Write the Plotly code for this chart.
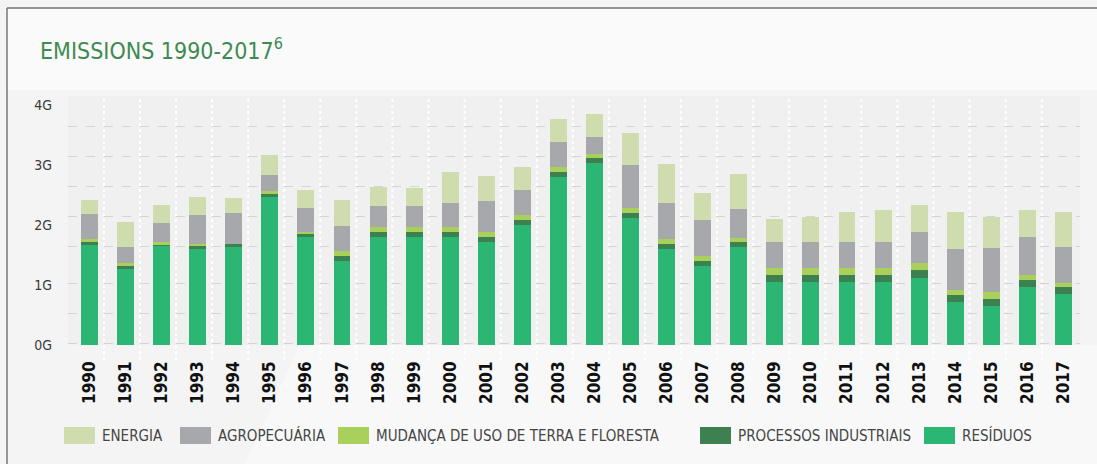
import plotly.graph_objects as go

years = [str(y) for y in range(1990, 2018)]
residuos = [1.68, 1.28, 1.65, 1.60, 1.63, 2.48, 1.80, 1.40, 1.80, 1.80, 1.80, 1.72, 2.00, 2.80,
            3.03, 2.12, 1.60, 1.32, 1.63, 1.05, 1.05, 1.05, 1.05, 1.12, 0.72, 0.65, 0.97, 0.85]
processos = [0.03, 0.03, 0.03, 0.05, 0.05, 0.03, 0.05, 0.08, 0.08, 0.08, 0.08, 0.08, 0.08, 0.08,
             0.08, 0.08, 0.08, 0.08, 0.08, 0.12, 0.12, 0.12, 0.12, 0.13, 0.12, 0.12, 0.12, 0.12]
mudanca = [0.05, 0.05, 0.03, 0.03, 0.00, 0.05, 0.03, 0.08, 0.08, 0.08, 0.08, 0.08, 0.08, 0.08,
           0.08, 0.08, 0.08, 0.08, 0.08, 0.12, 0.12, 0.12, 0.12, 0.12, 0.08, 0.12, 0.08, 0.07]
agro = [0.43, 0.27, 0.32, 0.48, 0.52, 0.28, 0.40, 0.43, 0.35, 0.35, 0.40, 0.52, 0.43, 0.43,
        0.28, 0.72, 0.60, 0.60, 0.48, 0.43, 0.43, 0.43, 0.43, 0.52, 0.68, 0.72, 0.63, 0.60]
energia = [0.22, 0.42, 0.30, 0.30, 0.25, 0.33, 0.30, 0.42, 0.33, 0.30, 0.53, 0.42, 0.38, 0.38,
           0.38, 0.53, 0.65, 0.45, 0.58, 0.38, 0.42, 0.50, 0.53, 0.45, 0.62, 0.53, 0.45, 0.58]

y_tick_vals = [0, 1, 2, 3, 4]
y_tick_text = ["0G", "1G", "2G", "3G", "4G"]
grid_vals = [0.02, 0.53, 1.03, 1.64, 2.14, 2.64, 3.14, 3.64, 4.14]

series = [
    ("RESÍDUOS", residuos, "#2bb673"),
    ("PROCESSOS INDUSTRIAIS", processos, "#3d8150"),
    ("MUDANÇA DE USO DE TERRA E FLORESTA", mudanca, "#a8d05a"),
    ("AGROPECUÁRIA", agro, "#a7a8ab"),
    ("ENERGIA", energia, "#cfdcae"),
]

FONT = "DejaVu Sans Condensed, Liberation Sans Narrow, Roboto, sans-serif"
W, H = 1097, 464
ML, MR, MT, MB = 68, 17, 96, 119
PW, PH = W - ML - MR, H - MT - MB


def px(x):
    return (x - ML) / PW


def py(y):
    return (H - MB - y) / PH


fig = go.Figure()
for name, vals, color in series:
    fig.add_trace(go.Bar(x=years, y=vals, name=name, marker=dict(color=color, line=dict(width=0)),
                         width=0.47, showlegend=False))

shapes = []
# top white area
shapes.append(dict(type="rect", xref="paper", yref="paper", x0=px(7), x1=px(W), y0=py(90), y1=py(8),
                   fillcolor="#fafafa", line=dict(width=0), layer="below"))
# subtle diagonal light band
shapes.append(dict(type="path", xref="paper", yref="paper",
                   path=f"M {px(245)} {py(464)} L {px(300)} {py(345)} L {px(W)} {py(345)} L {px(W)} {py(464)} Z",
                   fillcolor="#f8f8f8", line=dict(width=0), layer="below"))
# card border
shapes.append(dict(type="line", xref="paper", yref="paper", x0=px(7), x1=px(W), y0=py(8), y1=py(8),
                   line=dict(color="#707070", width=1.5), layer="above"))
shapes.append(dict(type="line", xref="paper", yref="paper", x0=px(7), x1=px(7), y0=py(8), y1=py(H),
                   line=dict(color="#777777", width=1.5), layer="above"))
# white dotted separators
for i in range(len(years) - 1):
    shapes.append(dict(type="line", xref="x", yref="paper", x0=i + 0.4, x1=i + 0.4, y0=py(360), y1=1,
                       line=dict(color="#ffffff", width=2, dash="dot"), layer="below"))

annotations = [dict(text="EMISSIONS 1990-2017<sup>6</sup>", xref="paper", yref="paper", x=px(38), y=py(49),
                    xanchor="left", yanchor="middle", showarrow=False,
                    font=dict(family=FONT, size=23, color="#3f8a50"))]

legend_items = [
    ("ENERGIA", "#cfdcae", 64),
    ("AGROPECUÁRIA", "#a7a8ab", 180),
    ("MUDANÇA DE USO DE TERRA E FLORESTA", "#a8d05a", 338),
    ("PROCESSOS INDUSTRIAIS", "#3d8150", 700),
    ("RESÍDUOS", "#2bb673", 924),
]
for label, color, x0 in legend_items:
    shapes.append(dict(type="rect", xref="paper", yref="paper", x0=px(x0), x1=px(x0 + 31),
                       y0=py(444), y1=py(427), fillcolor=color, line=dict(width=0), layer="above"))
    annotations.append(dict(text=label, xref="paper", yref="paper", x=px(x0 + 36), y=py(435.5),
                            xanchor="left", yanchor="middle", showarrow=False,
                            font=dict(family=FONT, size=15, color="#454545")))

fig.update_layout(
    width=W, height=H,
    margin=dict(l=ML, r=MR, t=MT, b=MB, pad=0),
    barmode="stack",
    paper_bgcolor="#f4f4f4",
    plot_bgcolor="#f0f0f0",
    shapes=shapes,
    annotations=annotations,
    showlegend=False,
    xaxis=dict(type="category", range=[-0.596, 27.46], tickangle=-90, showgrid=False, zeroline=False,
               ticks="", ticklabelstandoff=12,
               tickfont=dict(family=FONT, size=17, color="#111111", weight="bold"), fixedrange=True),
    yaxis=dict(range=[0, 4.15], tickvals=y_tick_vals, ticktext=y_tick_text, showgrid=False,
               zeroline=False, ticks="", ticklabelstandoff=15,
               tickfont=dict(family=FONT, size=14, color="#3a3a3a"),
               minor=dict(tickmode="array", tickvals=grid_vals, showgrid=True, gridcolor="#d4d4d4",
                          griddash="dash", gridwidth=1, ticks=""),
               fixedrange=True),
)

fig.write_html("out.html", config={"displayModeBar": False},
               post_script="document.body.style.margin='0';document.body.style.overflow='hidden';")
